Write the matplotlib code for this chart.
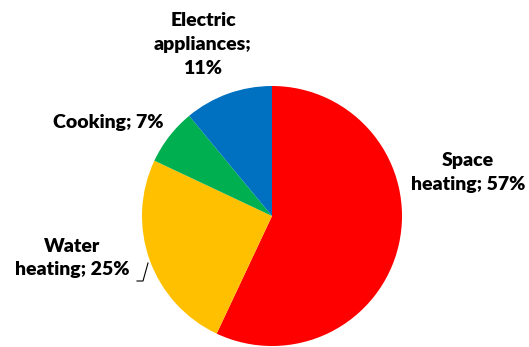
import matplotlib
matplotlib.use("Agg")
import matplotlib.pyplot as plt

categories = ["Space heating", "Water heating", "Cooking", "Electric appliances"]
values = [57, 25, 7, 11]
colors = ["#FF0000", "#FFC000", "#00B050", "#0070C0"]
label_texts = ["Space\nheating; 57%", "Water\nheating; 25%", "Cooking; 7%", "Electric\nappliances;\n11%"]

W, H = 529, 347
fig = plt.figure(figsize=(W / 100, H / 100), dpi=100)
ax = fig.add_axes([0, 0, 1, 1])
ax.set_xlim(0, W)
ax.set_ylim(0, H)
ax.set_aspect("equal")
ax.axis("off")

cx, cy, r = 272, H - 216, 130
ax.pie(values, colors=colors, startangle=90, counterclock=False,
       center=(cx, cy), radius=r, frame=True,
       wedgeprops=dict(linewidth=0))
ax.set_xlim(0, W)
ax.set_ylim(0, H)
ax.axis("off")

pos = [(468, 172), (72, 258), (108, 122), (203, 44)]
for (x, y), t in zip(pos, label_texts):
    ax.text(x, H - y, t, ha="center", va="center", fontsize=14,
            fontweight="heavy", family="Lato", linespacing=1.5, color="#000000")

ax.plot([137, 143, 148], [H - 281, H - 281, H - 263], color="black", lw=0.8)

fig.savefig("out.png", dpi=100)
